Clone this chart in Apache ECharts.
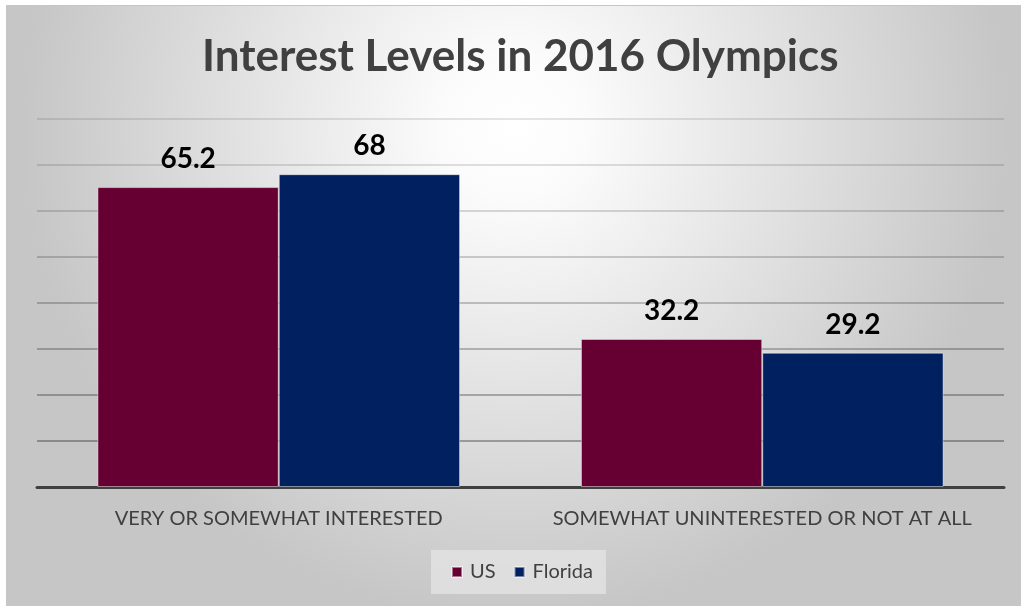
<!DOCTYPE html>
<html>
<head>
<meta charset="utf-8">
<script src="https://cdn.jsdelivr.net/npm/echarts@6/dist/echarts.min.js"></script>
<style>
html,body{margin:0;padding:0;background:#fff;overflow:hidden;}
#wrap{position:absolute;left:6px;top:5px;width:1015px;height:601px;border-top:1px solid #c6c6c6;border-left:1px solid #c6c6c6;}
#c{width:1014px;height:600px;}
</style>
</head>
<body>
<div id="wrap"><div id="c"></div></div>
<script>
const categories = ['VERY OR SOMEWHAT INTERESTED', 'SOMEWHAT UNINTERESTED OR NOT AT ALL'];
const usValues = [65.2, 32.2];
const floridaValues = [68, 29.2];
const seriesNames = ['US', 'Florida'];
const titleText = 'Interest Levels in 2016 Olympics';

const chart = echarts.init(document.getElementById('c'), null, {renderer: 'canvas'});
const FONT = 'Lato';
const labelStyle = {show: true, position: 'top', distance: 14, color: '#000', fontFamily: FONT, fontWeight: 'bold', fontSize: 28};
chart.setOption({
  backgroundColor: {
    type: 'radial', x: 0.5, y: 0.2, r: 0.82,
    colorStops: [{offset: 0, color: '#ffffff'}, {offset: 0.15, color: '#fbfbfb'}, {offset: 1, color: '#c6c6c6'}]
  },
  title: {
    text: titleText, left: 190, top: 24,
    textStyle: {fontFamily: FONT, fontWeight: 'bold', fontSize: 44, color: '#404040'}
  },
  legend: {
    data: seriesNames, bottom: 12, left: 424, icon: 'rect', itemWidth: 10, itemHeight: 10, itemGap: 18,
    backgroundColor: 'rgba(228,228,228,0.75)', padding: [12, 13, 12, 20],
    textStyle: {fontFamily: FONT, fontSize: 20, color: '#404040', padding: [0, 0, 0, 3]}
  },
  grid: {left: 30, right: 17, top: 113, bottom: 119, containLabel: false},
  xAxis: {
    type: 'category', data: categories,
    axisLine: {lineStyle: {color: '#404040', width: 3}},
    axisTick: {show: false},
    axisLabel: {interval: 0, fontFamily: FONT, fontSize: 20, color: '#404040', margin: 22}
  },
  yAxis: {
    type: 'value', min: 0, max: 80, interval: 10,
    axisLabel: {show: false}, axisLine: {show: false}, axisTick: {show: false},
    splitLine: {lineStyle: {width: 2, color: ['rgba(0,0,0,0.3)', 'rgba(0,0,0,0.3)', 'rgba(0,0,0,0.27)', 'rgba(0,0,0,0.24)', 'rgba(0,0,0,0.21)', 'rgba(0,0,0,0.18)', 'rgba(0,0,0,0.15)', 'rgba(0,0,0,0.12)', 'rgba(0,0,0,0.1)']}}
  },
  series: [
    {name: 'US', type: 'bar', data: usValues, barGap: '0%', barCategoryGap: '25%',
     itemStyle: {color: '#660033', borderColor: 'rgba(255,255,255,0.45)', borderWidth: 1}, label: labelStyle},
    {name: 'Florida', type: 'bar', data: floridaValues, barGap: '0%', barCategoryGap: '25%',
     itemStyle: {color: '#002060', borderColor: 'rgba(255,255,255,0.45)', borderWidth: 1}, label: labelStyle}
  ]
});
</script>
</body>
</html>
